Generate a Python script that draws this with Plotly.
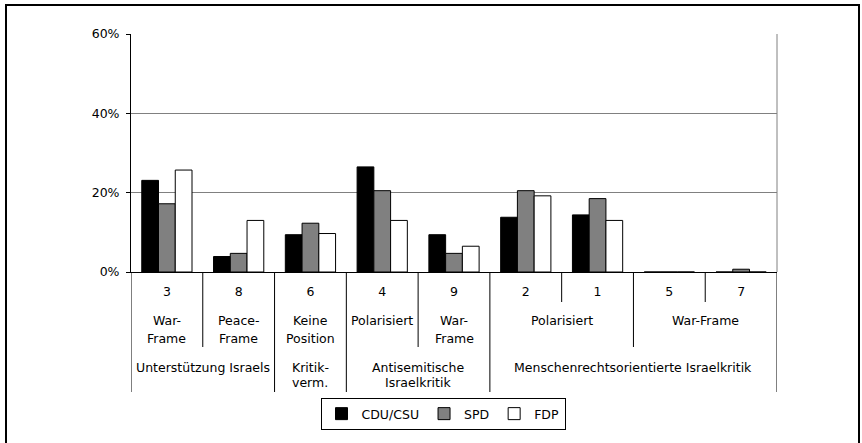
import plotly.graph_objects as go

# ---- data ----
codes = ["3", "8", "6", "4", "9", "2", "1", "5", "7"]
cdu_csu = [23.1, 3.9, 9.4, 26.5, 9.4, 13.8, 14.4, 0.0, 0.0]
spd = [17.2, 4.7, 12.3, 20.5, 4.7, 20.5, 18.5, 0.0, 0.7]
fdp = [25.7, 13.0, 9.7, 13.0, 6.5, 19.2, 13.0, 0.0, 0.0]

# second-level groups: (label, first index, last index)
level2 = [
    ("War-<br>Frame", 0, 0),
    ("Peace-<br>Frame", 1, 1),
    ("Keine<br>Position", 2, 2),
    ("Polarisiert", 3, 3),
    ("War-<br>Frame", 4, 4),
    ("Polarisiert", 5, 6),
    ("War-Frame", 7, 8),
]
# third-level groups
level3 = [
    ("Unterstützung Israels", 0, 1),
    ("Kritik-<br>verm.", 2, 2),
    ("Antisemitische<br>Israelkritik", 3, 4),
    ("Menschenrechtsorientierte Israelkritik", 5, 8),
]
y_ticks = [0, 20, 40, 60]

FONT = "DejaVu Sans"
FS = 12.5

W, H = 862, 443
ML, MR, MT, MB = 131, 85, 34, 171
PH = H - MT - MB
PW = W - ML - MR


def py(pix):
    """pixel row -> paper y"""
    return (H - MB - pix) / PH


def px(pix):
    return (pix - ML) / PW


x = list(range(len(codes)))

fig = go.Figure()
for name, vals, col in [("CDU/CSU", cdu_csu, "#000000"),
                        ("SPD", spd, "#808080"),
                        ("FDP", fdp, "#ffffff")]:
    fig.add_trace(go.Bar(x=x, y=vals, name=name,
                         marker=dict(color=col, line=dict(color="#000000", width=1))))

annotations = []


def add_group_labels(groups, first_line_pix, line_step):
    for label, a, b in groups:
        for k, line in enumerate(label.split("<br>")):
            annotations.append(dict(
                x=(a + b) / 2, xref="x", y=py(first_line_pix + k * line_step), yref="paper",
                text=line, showarrow=False, yanchor="middle",
                font=dict(family=FONT, size=FS, color="#000000")))


add_group_labels(level2, 320, 18)
add_group_labels(level3, 367, 15)

# dividers: depth depends on which group boundaries coincide
b3 = set()
for _, a, b in level3:
    b3.add(a - 0.5); b3.add(b + 0.5)
b2 = set()
for _, a, b in level2:
    b2.add(a - 0.5); b2.add(b + 0.5)

shapes = []
for i in range(len(codes) + 1):
    bx = i - 0.5
    if bx in b3:
        depth = py(392)
    elif bx in b2:
        depth = py(347)
    else:
        depth = py(302)
    shapes.append(dict(type="line", xref="x", yref="paper", x0=bx, x1=bx,
                       y0=0, y1=depth, line=dict(color="#000000", width=1)))

# right border of plot area (gray)
shapes.append(dict(type="line", xref="paper", yref="paper", x0=1, x1=1, y0=0, y1=1,
                   line=dict(color="#808080", width=1)))
# outer chart frame (bottom edge lies outside the visible window)
shapes.append(dict(type="rect", xref="paper", yref="paper",
                   x0=px(6), x1=px(859), y0=py(5), y1=py(480),
                   line=dict(color="#000000", width=2), fillcolor="rgba(0,0,0,0)",
                   layer="below"))

fig.update_layout(
    width=W, height=H,
    margin=dict(l=ML, r=MR, t=MT, b=MB, autoexpand=False),
    paper_bgcolor="white", plot_bgcolor="white",
    font=dict(family=FONT, size=FS, color="#000000"),
    barmode="group", bargap=0.3, bargroupgap=0,
    showlegend=True,
    legend=dict(orientation="h", x=px(443), xanchor="center", y=py(398), yanchor="top",
                bordercolor="#000000", borderwidth=1, bgcolor="white",
                font=dict(family=FONT, size=FS), itemwidth=30, tracegroupgap=0),
    annotations=annotations,
    shapes=shapes,
)
fig.update_xaxes(range=[-0.5, len(codes) - 0.5], tickmode="array", tickvals=x,
                 ticktext=codes, showgrid=False, zeroline=False,
                 showline=True, linecolor="#000000", linewidth=1,
                 ticks="", ticklabelstandoff=8, fixedrange=True, automargin=False)
fig.update_yaxes(range=[0, 60], tickmode="array", tickvals=y_ticks,
                 ticktext=[f"{v}%" for v in y_ticks],
                 showgrid=True, gridcolor="#808080", gridwidth=1, zeroline=False,
                 showline=True, linecolor="#000000", linewidth=1,
                 ticks="outside", ticklen=4, tickcolor="#000000",
                 ticklabelstandoff=4, fixedrange=True, automargin=False)

fig.write_html("out.html", config={"displayModeBar": False},
               post_script="document.body.style.margin='0';document.body.style.overflow='hidden';")
